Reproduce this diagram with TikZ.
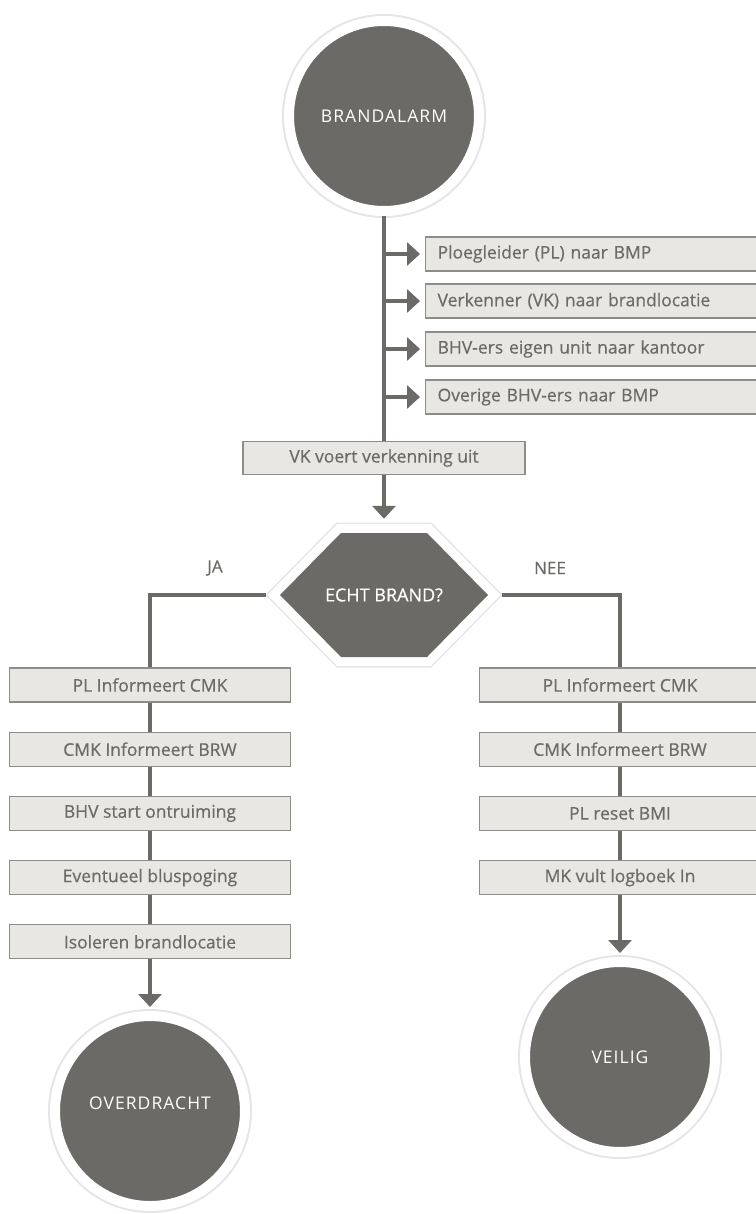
\documentclass[tikz,border=0pt]{standalone}
\usepackage{fontspec}
\setmainfont{Open Sans}[FakeBold=0.5]
\newfontfamily\roundfont[LetterSpace=6]{Open Sans}
\usetikzlibrary{arrows.meta}
\usetikzlibrary{positioning}
\definecolor{darkgrey}{HTML}{6B6A66}
\definecolor{boxgrey}{HTML}{E8E7E4}
\definecolor{edgegrey}{HTML}{8E8D89}
\definecolor{textgrey}{HTML}{6C6B67}
\tikzset{>={Triangle[width=23pt,length=13pt]}}
\tikzstyle{flow}=[draw=darkgrey, line width=4.5pt]
\tikzstyle{stepbox}=[draw=edgegrey, fill=boxgrey, line width=1.2pt, minimum width=281pt, minimum height=34pt, text=textgrey, font=\fontsize{17.5}{20}\selectfont]
\tikzstyle{sidebox}=[stepbox, anchor=west, text width=322pt, inner xsep=12pt, align=left]
\tikzstyle{bigcirc}=[circle, fill=darkgrey, draw=white, line width=10pt, minimum size=190pt, text=white, preaction={draw=black!10, line width=14pt}, font=\roundfont\fontsize{17.5}{20}\selectfont]
\tikzstyle{answer}=[text=textgrey, font=\fontsize{17}{20}\selectfont]

\begin{document}
\begin{tikzpicture}[x=1pt, y=-1pt]
		\useasboundingbox (0,0) rectangle (755,1214);

		\node[bigcirc] (alarm) at (384,116) {BRANDALARM};

		% first actions
		\node[sidebox] (pl) at (425,254) {Ploegleider (PL) naar BMP};
		\node[sidebox] (verk) at (425,301) {Verkenner (VK) naar brandlocatie};
		\node[sidebox] (bhv) at (425,349) {BHV-ers eigen unit naar kantoor};
		\node[sidebox] (ov) at (425,397) {Overige BHV-ers naar BMP};

		\node[stepbox, minimum width=282pt, minimum height=33pt] (vk) at (384,458) {VK voert verkenning uit};

		\draw[flow] (alarm) -- (vk);
		\foreach \b in {pl,verk,bhv,ov}
			\draw[flow, ->, shorten >=5pt] (alarm.south |- \b.west) -- (\b.west);

		% decision
		\coordinate (hx) at (384,595);
		\path[shift={(hx)}, draw=white, line width=18pt,
			preaction={draw=black!10, line width=21pt},
			postaction={fill=darkgrey}]
			(-104,0) -- (-43,-62) -- (43,-62) -- (104,0) -- (43,62) -- (-43,62) -- cycle;
		\node[minimum width=208pt, minimum height=124pt, text=white, font=\fontsize{18}{20}\selectfont] (echt) at (hx) {ECHT BRAND?};

		\draw[flow, ->, shorten >=14pt] (vk) -- (echt.north);

		\node[answer] (ja) at (215,568) {JA};
		\node[answer] (nee) at (550,568) {NEE};

		% ja
		\node[stepbox] (l1) at (150,685) {PL Informeert CMK};
		\node[stepbox, below=29pt of l1] (l2) {CMK Informeert BRW};
		\node[stepbox, below=29pt of l2] (l3) {BHV start ontruiming};
		\node[stepbox, below=29pt of l3] (l4) {Eventueel bluspoging};
		\node[stepbox, below=29pt of l4] (l5) {Isoleren brandlocatie};
		\node[bigcirc] (over) at (150,1111) {\raisebox{16pt}{OVERDRACHT}};

		\draw[flow, shorten <=14pt] (echt.west) -| (l1);
		\draw[flow] (l1) -- (l2);
		\draw[flow] (l2) -- (l3);
		\draw[flow] (l3) -- (l4);
		\draw[flow] (l4) -- (l5);
		\draw[flow, ->, shorten >=4pt] (l5) -- (over);

		% nee
		\node[stepbox] (r1) at (620,685) {PL Informeert CMK};
		\node[stepbox, below=29pt of r1] (r2) {CMK Informeert BRW};
		\node[stepbox, below=29pt of r2] (r3) {PL reset BMI};
		\node[stepbox, below=29pt of r3] (r4) {MK vult logboek In};
		\node[bigcirc] (veilig) at (620,1057) {VEILIG};

		\draw[flow, shorten <=14pt] (echt.east) -| (r1);
		\draw[flow] (r1) -- (r2);
		\draw[flow] (r2) -- (r3);
		\draw[flow] (r3) -- (r4);
		\draw[flow, ->, shorten >=4pt] (r4) -- (veilig);

\end{tikzpicture}
\end{document}
